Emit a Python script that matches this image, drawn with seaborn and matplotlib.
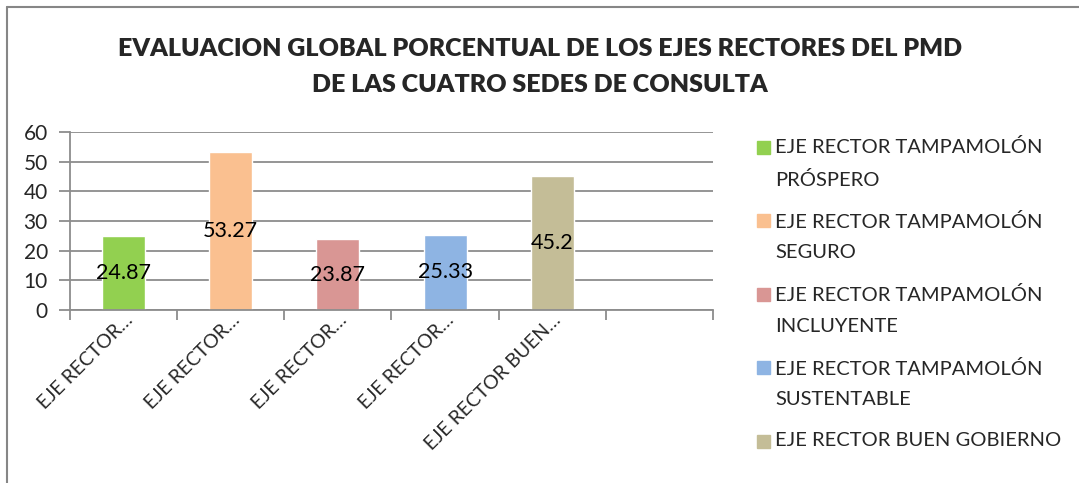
import matplotlib
matplotlib.use("Agg")
import matplotlib.pyplot as plt
import seaborn as sns
import pandas as pd
from matplotlib.lines import Line2D
from matplotlib.patches import Rectangle

series = ["EJE RECTOR TAMPAMOLÓN PRÓSPERO", "EJE RECTOR TAMPAMOLÓN SEGURO",
          "EJE RECTOR TAMPAMOLÓN INCLUYENTE", "EJE RECTOR TAMPAMOLÓN SUSTENTABLE",
          "EJE RECTOR BUEN GOBIERNO"]
values = [24.87, 53.27, 23.87, 25.33, 45.2]
tick_labels = ["EJE RECTOR…", "EJE RECTOR…", "EJE RECTOR…", "EJE RECTOR…", "EJE RECTOR BUEN…"]
legend_labels = ["EJE RECTOR TAMPAMOLÓN\nPRÓSPERO", "EJE RECTOR TAMPAMOLÓN\nSEGURO",
                 "EJE RECTOR TAMPAMOLÓN\nINCLUYENTE", "EJE RECTOR TAMPAMOLÓN\nSUSTENTABLE",
                 "EJE RECTOR BUEN GOBIERNO"]
colors = ["#92D050", "#FAC090", "#D99694", "#8EB4E3", "#C4BD97"]
title = "EVALUACION GLOBAL PORCENTUAL DE LOS EJES RECTORES DEL PMD\nDE LAS CUATRO SEDES DE CONSULTA"

sns.set_theme(style="white")
plt.rcParams['font.family'] = ['Lato', 'DejaVu Sans']

df = pd.DataFrame({"serie": series, "valor": values})

W, H = 1079, 483
fig = plt.figure(figsize=(W/100, H/100), dpi=100)
ax = fig.add_axes([70/W, 1-310/H, (713-70)/W, (310-132)/H])

sns.barplot(data=df, x="serie", y="valor", hue="serie", order=series,
            palette=colors, dodge=False, width=0.4, legend=False, ax=ax,
            saturation=1)

for c in ax.containers:
    ax.bar_label(c, fmt="%g", label_type="center", fontsize=15.5, color="black")

ax.set_xlim(-0.5, 5.5)
ax.set_ylim(0, 60)
ax.set_yticks(range(0, 61, 10))
ax.yaxis.grid(True, color="#8C8C8C", linewidth=1.3)
ax.set_axisbelow(True)
ax.set_xlabel("")
ax.set_ylabel("")
ax.set_xticks([x - 0.5 for x in range(7)], minor=False)
ax.set_xticklabels([])
ax.set_xticks(range(5), minor=True)
ax.set_xticklabels(tick_labels, minor=True, rotation=45, ha="right",
                   rotation_mode="anchor", fontsize=14)
ax.tick_params(axis="x", which="major", length=7, color="#8C8C8C", width=1.3, direction="out", bottom=True)
ax.tick_params(axis="x", which="minor", length=0, pad=1)
ax.tick_params(axis="y", length=8, color="#8C8C8C", width=1.3, left=True, labelsize=15, pad=8)
for s in ["top", "right"]:
    ax.spines[s].set_visible(False)
for s in ["left", "bottom"]:
    ax.spines[s].set_color("#8C8C8C")
    ax.spines[s].set_linewidth(1.3)

fig.text(540/W, 1-67/H, title, ha="center", va="center", fontsize=18,
         fontweight="heavy", linespacing=1.8)

# legend (Excel style: swatch aligned with first line of each entry)
line_h = 33
first_y = 147
for i, (col, lab) in enumerate(zip(colors, legend_labels)):
    y0 = first_y + i * 73.5
    nlines = lab.count("\n") + 1
    fig.patches.append(Rectangle((757/W, 1-(y0+6.5)/H), 13/W, 13/H, color=col,
                                 transform=fig.transFigure, figure=fig))
    fig.text(775/W, 1-(y0 + (nlines-1)*line_h/2)/H, lab, ha="left", va="center",
             fontsize=14.5, linespacing=1.98)

fig.add_artist(Line2D([7/W, 7/W], [0, 1-7/H], color="#868686", lw=1.5, transform=fig.transFigure))
fig.add_artist(Line2D([7/W, 1], [1-7/H, 1-7/H], color="#868686", lw=1.5, transform=fig.transFigure))

fig.savefig("out.png", dpi=100)
